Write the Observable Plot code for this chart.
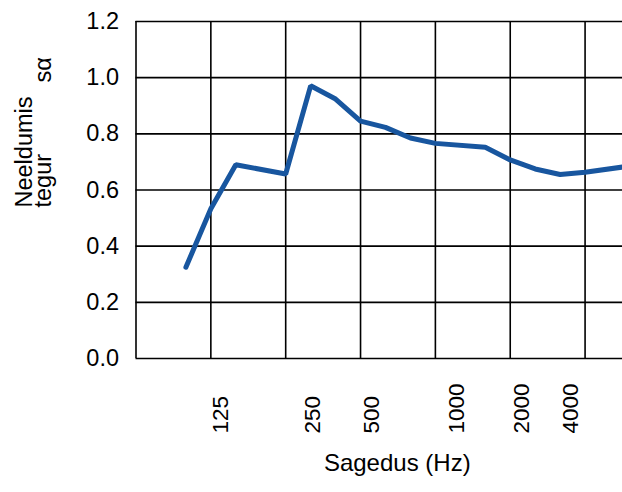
<!DOCTYPE html>
<html><head><meta charset="utf-8">
<script src="https://cdn.jsdelivr.net/npm/d3@7"></script>
<script src="https://cdn.jsdelivr.net/npm/@observablehq/plot@0.6"></script>
<style>body{margin:0;background:#fff;} svg{font-family:"Liberation Sans",Arial,sans-serif;}</style>
</head><body><div id="chart"></div>
<script>
// 1/3-octave band index (0 = first gridline) and absorption coefficient
const bands = [2, 3, 4, 6, 7, 8, 9, 10, 11, 12, 14, 15, 16, 17, 18, 20];
const absorption = [0.325, 0.533, 0.690, 0.657, 0.971, 0.924, 0.845, 0.823, 0.785, 0.766, 0.752, 0.707, 0.675, 0.655, 0.663, 0.688];
const yTicks = [0, 0.2, 0.4, 0.6, 0.8, 1.0, 1.2];
const octaveGrid = [0, 3, 6, 9, 12, 15, 18];
const freqLabels = ["125", "250", "500", "1000", "2000", "4000"];
const freqLabelPos = [3.69, 7.36, 9.72, 13.14, 15.77, 17.71];

const data = bands.map((b, i) => ({band: b, a: absorption[i]}));
const labels = freqLabels.map((t, i) => ({t, p: freqLabelPos[i]}));

const chart = Plot.plot({
  width: 622,
  height: 492,
  marginTop: 21,
  marginBottom: 134,
  marginLeft: 135.5,
  marginRight: 0,
  style: {fontFamily: "Liberation Sans, Arial, sans-serif", color: "#000", background: "#fff"},
  x: {type: "linear", domain: [0, 19.5], axis: null},
  y: {domain: [0, 1.2], axis: null},
  marks: [
    Plot.gridX(octaveGrid, {stroke: "#000", strokeOpacity: 1, strokeWidth: 1.6}),
    Plot.gridY(yTicks, {stroke: "#000", strokeOpacity: 1, strokeWidth: 1.6}),
    Plot.axisY(yTicks, {tickFormat: d3.format(".1f"), tickSize: 0, tickPadding: 17, fontSize: 23.5, label: null}),
    Plot.line(data, {x: "band", y: "a", stroke: "#18569f", strokeWidth: 5, clip: true, strokeLinejoin: "miter"}),
    Plot.text(labels, {x: "p", text: "t", frameAnchor: "bottom", dy: 75, rotate: -90, textAnchor: "start", fontSize: 22.5, fill: "#000"}),
    Plot.text(["Sagedus (Hz)"], {frameAnchor: "bottom", dx: 18, dy: 112, fontSize: 24, fill: "#000"}),
    Plot.text(["Neeldumis"], {frameAnchor: "top-left", dx: 31 - 135.5, dy: 207 - 21, rotate: -90, textAnchor: "start", lineAnchor: "bottom", fontSize: 23.5, fill: "#000"}),
    Plot.text(["tegur"], {frameAnchor: "top-left", dx: 50 - 135.5, dy: 207 - 21, rotate: -90, textAnchor: "start", lineAnchor: "bottom", fontSize: 23.5, fill: "#000"}),
    Plot.text(["s\u03b1"], {frameAnchor: "top-left", dx: 50 - 135.5, dy: 82 - 21, rotate: -90, textAnchor: "start", lineAnchor: "bottom", fontSize: 23.5, fill: "#000"})
  ]
});
document.getElementById("chart").appendChild(chart);
</script>
</body></html>
